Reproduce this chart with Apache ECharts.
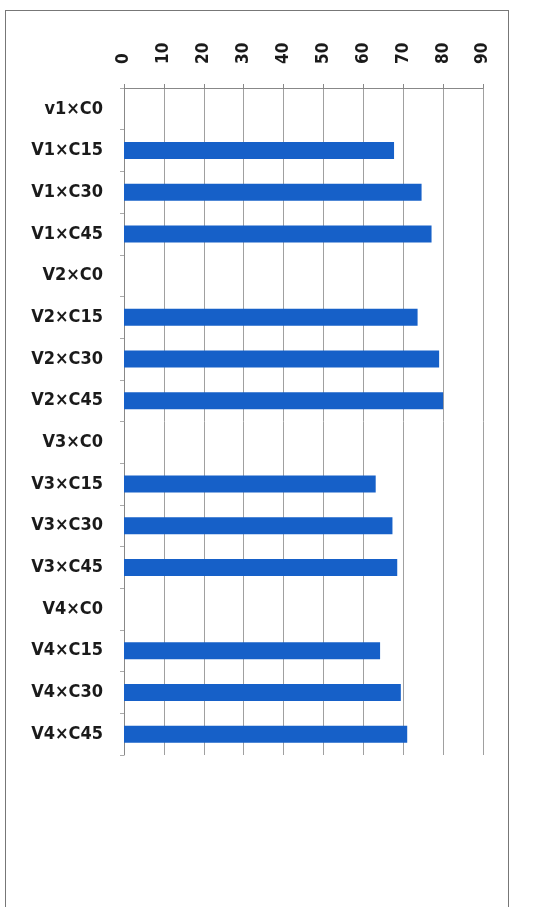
<!DOCTYPE html>
<html>
<head>
<meta charset="utf-8">
<script src="https://cdn.jsdelivr.net/npm/echarts@6/dist/echarts.min.js"></script>
<style>
  html, body { margin: 0; padding: 0; background: #fff; }
  .frame {
    position: absolute;
    left: 5px; top: 10px;
    width: 504px; height: 905px;
    border: 1.5px solid #777;
    box-sizing: border-box;
  }
  #chart { position: absolute; left: 0; top: 0; width: 547px; height: 907px; }
</style>
</head>
<body>
<div class="frame"></div>
<div id="chart"></div>
<script>
const categories = [
  'v1×C0', 'V1×C15', 'V1×C30', 'V1×C45',
  'V2×C0', 'V2×C15', 'V2×C30', 'V2×C45',
  'V3×C0', 'V3×C15', 'V3×C30', 'V3×C45',
  'V4×C0', 'V4×C15', 'V4×C30', 'V4×C45'
];
const values = [
  0, 67.7, 74.6, 77.1,
  0, 73.6, 79.0, 80.0,
  0, 63.1, 67.3, 68.5,
  0, 64.2, 69.4, 71.0
];
const valueMin = 0;
const valueMax = 90;
const valueStep = 10;

const myChart = echarts.init(document.getElementById('chart'), null, { renderer: 'canvas' });
const labelFont = {
  color: '#1a1a1a',
  fontFamily: 'DejaVu Sans Condensed',
  fontWeight: 'bold'
};
const options = {
  animation: false,
  grid: {
    left: 124,
    right: 64,
    top: 88,
    bottom: 152,
    containLabel: false
  },
  xAxis: {
    type: 'value',
    position: 'top',
    min: valueMin,
    max: valueMax,
    interval: valueStep,
    axisLine: { show: true, lineStyle: { color: '#888', width: 1 } },
    axisTick: { show: true, length: 4, lineStyle: { color: '#888' } },
    splitLine: { show: true, lineStyle: { color: '#a0a0a0', width: 1 } },
    axisLabel: Object.assign({ rotate: -90, margin: 24, fontSize: 17 }, labelFont)
  },
  yAxis: {
    type: 'category',
    inverse: true,
    data: categories,
    axisLine: { show: true, lineStyle: { color: '#888', width: 1 } },
    axisTick: { show: true, length: 4, lineStyle: { color: '#aaa' } },
    splitLine: { show: false },
    axisLabel: Object.assign({ margin: 21, fontSize: 18 }, labelFont)
  },
  series: [
    {
      type: 'bar',
      data: values,
      barWidth: 17,
      itemStyle: { color: '#1660c8' }
    }
  ]
};
myChart.setOption(options);
</script>
</body>
</html>
